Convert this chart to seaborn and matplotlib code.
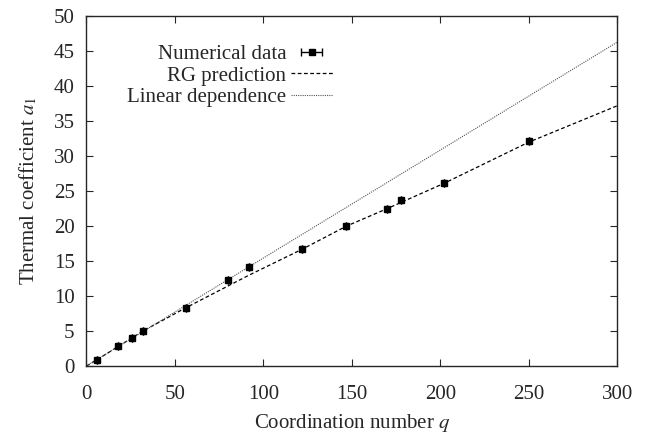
import matplotlib
matplotlib.use("Agg")
import numpy as np
import pandas as pd
import matplotlib.pyplot as plt
import seaborn as sns

# =========================================
# DATA
# =========================================

q_data = [6, 18, 26, 32, 56, 80, 92, 122, 147, 170, 178, 202, 250]
a1_data = [0.9, 2.8, 4.0, 5.0, 8.3, 12.3, 14.2, 16.7, 20.0, 22.5, 23.8, 26.2, 32.1]

q_rg = [0, 6, 18, 32, 56, 92, 122, 147, 170, 202, 250, 300]
a1_rg = [0.0, 0.9, 2.8, 5.0, 8.3, 13.0, 16.7, 20.0, 22.5, 26.1, 32.0, 37.2]

q_lin = [0, 300]
a1_lin = [0.0, 46.3]

# =========================================
# STYLE
# =========================================

sns.set_style("ticks")
plt.rcParams["font.family"] = ["Liberation Serif", "DejaVu Serif"]
plt.rcParams["mathtext.fontset"] = "stix"
plt.rcParams["xtick.direction"] = "in"
plt.rcParams["ytick.direction"] = "in"

FS = 15

fig = plt.figure(figsize=(6.65, 4.36), dpi=100)
ax = fig.add_axes([0.130, 0.1606, 0.798, 0.802])

# =========================================
# PLOT
# =========================================

rg = pd.DataFrame({"q": q_rg, "a1": a1_rg})
lin = pd.DataFrame({"q": q_lin, "a1": a1_lin})

eb = ax.errorbar(q_data, a1_data, xerr=np.zeros(len(q_data)), fmt="s",
                 color="black", markersize=5, capsize=3, elinewidth=1,
                 label="Numerical data", zorder=3)
sns.lineplot(data=rg, x="q", y="a1", ax=ax, color="black", lw=0.9,
             linestyle=(0, (3, 2)), label="RG prediction")
sns.lineplot(data=lin, x="q", y="a1", ax=ax, color="#555555", lw=0.8,
             linestyle=(0, (1, 1)), label="Linear dependence")

ax.set_xlim(0, 300)
ax.set_ylim(0, 50)
ax.set_xticks(range(0, 301, 50))
ax.set_yticks(range(0, 51, 5))
ax.tick_params(labelsize=FS, top=True, right=True, length=5, width=0.8)
ax.tick_params(axis="x", pad=13.5)
ax.tick_params(axis="y", pad=8.5)
for s in ax.spines.values():
    s.set_linewidth(1.0)

ax.set_xlabel("Coordination number $q$", fontsize=FS, labelpad=6)
ax.set_ylabel("Thermal coefficient $a_1$", fontsize=FS, labelpad=10.5)

handles, labels = ax.get_legend_handles_labels()
order = [labels.index(n) for n in ["Numerical data", "RG prediction", "Linear dependence"]]
leg = ax.legend([handles[i] for i in order], [labels[i] for i in order],
                loc="upper right", bbox_to_anchor=(0.465, 0.92), frameon=False,
                markerfirst=False, fontsize=FS, handlelength=2.05,
                handletextpad=0.2, labelspacing=0.1, borderaxespad=0,
                borderpad=0)
for t in leg.get_texts():
    t.set_ha("right")

fig.savefig("out.png", dpi=100)
plt.close()
